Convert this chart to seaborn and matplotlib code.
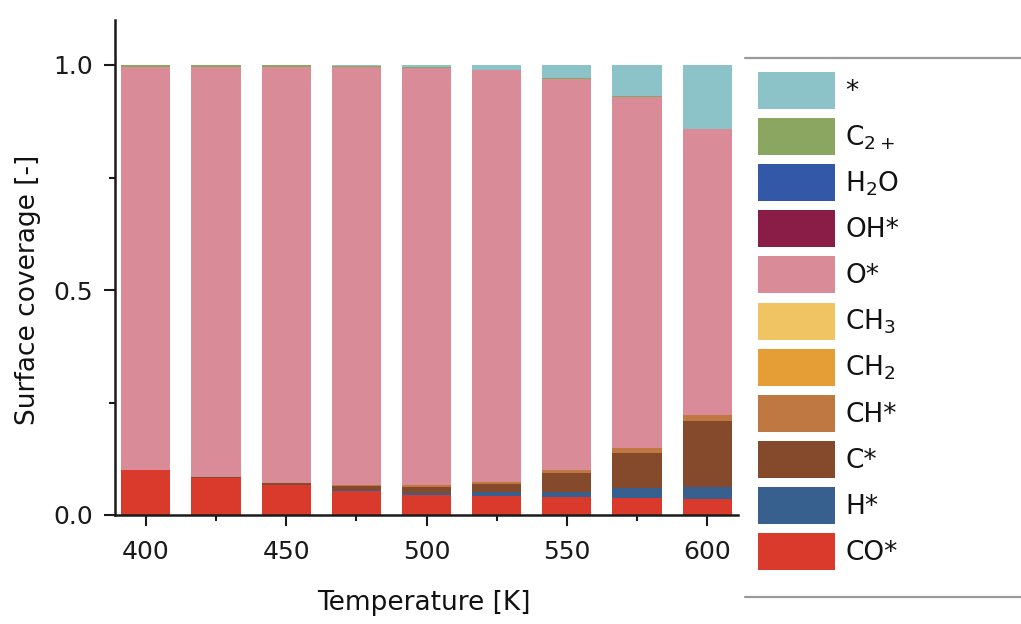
import numpy as np
import pandas as pd
import matplotlib.pyplot as plt
import seaborn as sns
from matplotlib.patches import Patch
from matplotlib.lines import Line2D
from matplotlib.ticker import MultipleLocator, FormatStrFormatter

# values, bottom layer first
temps = [400, 425, 450, 475, 500, 525, 550, 575, 600]
co_s  = [0.100, 0.082, 0.066, 0.054, 0.044, 0.042, 0.039, 0.037, 0.035]
h_s   = [0.000, 0.000, 0.000, 0.001, 0.004, 0.009, 0.013, 0.022, 0.027]
c_s   = [0.001, 0.003, 0.005, 0.009, 0.015, 0.017, 0.042, 0.078, 0.148]
ch_s  = [0.000, 0.000, 0.001, 0.002, 0.003, 0.005, 0.006, 0.011, 0.012]
ch2   = [0.000, 0.000, 0.000, 0.000, 0.000, 0.000, 0.000, 0.000, 0.000]
ch3   = [0.000, 0.000, 0.000, 0.000, 0.000, 0.000, 0.000, 0.000, 0.000]
o_s   = [0.895, 0.911, 0.924, 0.929, 0.927, 0.915, 0.870, 0.782, 0.635]
oh_s  = [0.000, 0.000, 0.000, 0.000, 0.000, 0.000, 0.000, 0.000, 0.000]
h2o   = [0.000, 0.000, 0.000, 0.000, 0.000, 0.000, 0.000, 0.000, 0.000]
c2p   = [0.003, 0.003, 0.003, 0.003, 0.002, 0.001, 0.001, 0.002, 0.001]
free  = [0.001, 0.001, 0.001, 0.002, 0.005, 0.011, 0.029, 0.068, 0.142]

species = ['*', 'C2+', 'H2O', 'OH*', 'O*', 'CH3', 'CH2', 'CH*', 'C*', 'H*', 'CO*']
labels = ['*', 'C$_{2+}$', 'H$_2$O', 'OH*', 'O*', 'CH$_3$', 'CH$_2$', 'CH*', 'C*', 'H*', 'CO*']
colors = ['#8cc3c9', '#8aa660', '#3458a8', '#8a1c48', '#d98b98', '#f0c462',
          '#e59d36', '#c07842', '#844a2b', '#37608f', '#d93a2b']
series = [free, c2p, h2o, oh_s, o_s, ch3, ch2, ch_s, c_s, h_s, co_s]

rows = []
for name, vals in zip(species, series):
    for t, v in zip(temps, vals):
        rows.append({'T': t, 'species': name, 'cov': v})
df = pd.DataFrame(rows)

sns.set_style('ticks')
plt.rcParams['font.family'] = ['DejaVu Sans']
plt.rcParams['mathtext.default'] = 'regular'
plt.rcParams['text.color'] = '#111111'
plt.rcParams['axes.labelcolor'] = '#111111'

fig = plt.figure(figsize=(10.21, 6.24), dpi=100)
ax = fig.add_axes([115/1021, 1 - 515/624, 623/1021, 495/624])

sns.histplot(data=df, x='T', weights='cov', hue='species', hue_order=species,
             palette=dict(zip(species, colors)), multiple='stack',
             binwidth=25, binrange=(387.5, 612.5), shrink=0.7, alpha=1,
             linewidth=0, legend=False, ax=ax)

ax.set_xlim(389, 611)
ax.set_ylim(0, 1.1)
ax.xaxis.set_major_locator(MultipleLocator(50))
ax.xaxis.set_minor_locator(MultipleLocator(25))
ax.set_yticks([0, 0.5, 1.0])
ax.set_yticks([0.25, 0.75], minor=True)
ax.yaxis.set_major_formatter(FormatStrFormatter('%.1f'))
ax.tick_params(which='major', length=8, width=1.5, labelsize=18, colors='#1a1a1a')
ax.tick_params(which='minor', length=4, width=1.5, colors='#1a1a1a')
ax.tick_params(axis='x', which='major', pad=10)
ax.tick_params(axis='y', which='major', pad=8)
for s in ['left', 'bottom']:
    ax.spines[s].set_linewidth(1.8)
    ax.spines[s].set_color('#1a1a1a')
sns.despine(ax=ax)

ax.set_xlabel('Temperature [K]', fontsize=19)
ax.set_ylabel('Surface coverage [-]', fontsize=19)
ax.xaxis.set_label_coords(0.496, -0.152)
ax.yaxis.set_label_coords(-0.118, 0.5 / 1.1)

handles = [Patch(facecolor=col, edgecolor='none') for col in colors]
fig.legend(handles, labels, loc='upper left', bbox_to_anchor=(758/1021, 1 - 72/624),
           frameon=False, fontsize=19, handlelength=2.9, handleheight=1.78,
           labelspacing=0.345, handletextpad=0.4, borderpad=0, borderaxespad=0)

fig.add_artist(Line2D([745/1021, 1], [1 - 58/624] * 2, transform=fig.transFigure,
                      color='#9a9a9a', lw=1.6))
fig.add_artist(Line2D([745/1021, 1], [1 - 597/624] * 2, transform=fig.transFigure,
                      color='#9a9a9a', lw=1.6))

fig.savefig('out.png', dpi=100)
